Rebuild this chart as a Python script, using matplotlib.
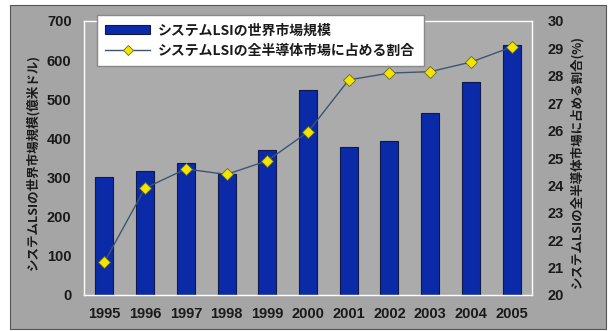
import matplotlib
matplotlib.use("Agg")
import matplotlib.pyplot as plt
from matplotlib.patches import Rectangle

plt.rcParams['font.family'] = ['Noto Sans CJK JP', 'DejaVu Sans']

# 年次データ
years = ["1995", "1996", "1997", "1998", "1999", "2000",
         "2001", "2002", "2003", "2004", "2005"]
market_size = [302, 317, 338, 308, 370, 524, 378, 394, 466, 543, 638]   # 億米ドル
share_pct = [21.2, 23.9, 24.6, 24.4, 24.9, 25.95, 27.85, 28.1, 28.15, 28.5, 29.05]  # %

label_bar = "システムLSIの世界市場規模"
label_line = "システムLSIの全半導体市場に占める割合"
ylabel_left = "システムLSIの世界市場規模(億米ドル)"
ylabel_right = "システムLSIの全半導体市場に占める割合(%)"

bg = "#a5a5a5"
num_font = {"family": "Liberation Sans", "weight": "bold", "size": 10.5}

fig = plt.figure(figsize=(6.09, 3.31), dpi=100, facecolor="white")
# 灰色の枠
fig.patches.append(Rectangle((10/609, 2/331), 596/609, 324/331,
                             transform=fig.transFigure, facecolor=bg,
                             edgecolor="#555555", linewidth=0.8, zorder=-10))

ax = fig.add_axes([84/609, 1 - 295/331, 448/609, 274/331])
ax.set_facecolor("#ababab")
x = range(len(years))
bars = ax.bar(x, market_size, width=0.44, color="#0b2aa8",
              edgecolor="#101848", linewidth=0.8, label=label_bar, zorder=2)
ax.set_ylim(0, 700)
ax.set_xlim(-0.5, len(years) - 0.5)
ax.set_yticks(range(0, 701, 100))
ax.set_xticks(list(x))
ax.set_xticklabels(years)
for s in ax.spines.values():
    s.set_color("white")
    s.set_linewidth(1.0)
ax.tick_params(length=0, pad=9)
for t in ax.get_xticklabels() + ax.get_yticklabels():
    t.set_fontproperties(num_font)
    t.set_color("#1a1a1a")

ax2 = ax.twinx()
ax2.set_facecolor("none")
line, = ax2.plot(x, share_pct, color="#3d5570", linewidth=1.0,
                 marker="D", markersize=6.5, markerfacecolor="#f2e600",
                 markeredgecolor="#6a6a20", markeredgewidth=0.6,
                 label=label_line, zorder=3)
ax2.set_ylim(20, 30)
ax2.set_yticks(range(20, 31))
for s in ax2.spines.values():
    s.set_visible(False)
ax2.tick_params(length=0, pad=11)
for t in ax2.get_yticklabels():
    t.set_fontproperties(num_font)
    t.set_color("#1a1a1a")

fig.text(33/609, 1 - 162/331, ylabel_left, rotation=90, ha="center",
         va="center", fontsize=9, fontweight="bold", color="#1a1a1a")
fig.text(577/609, 1 - 162/331, ylabel_right, rotation=90, ha="center",
         va="center", fontsize=9, fontweight="bold", color="#1a1a1a")

leg = fig.legend([bars, line], [label_bar, label_line], loc="upper left",
                 bbox_to_anchor=(97/609, 1 - 15/331), frameon=True,
                 fancybox=False, edgecolor="#888888", facecolor="white",
                 framealpha=1, handlelength=3.2, handletextpad=0.6,
                 borderpad=0.6, labelspacing=0.45, borderaxespad=0,
                 markerscale=0.8,
                 prop={"weight": "bold", "size": 10})
leg.set_zorder(10)
for t in leg.get_texts():
    t.set_color("#1a1a1a")

fig.savefig("out.png", dpi=100, facecolor="white")
